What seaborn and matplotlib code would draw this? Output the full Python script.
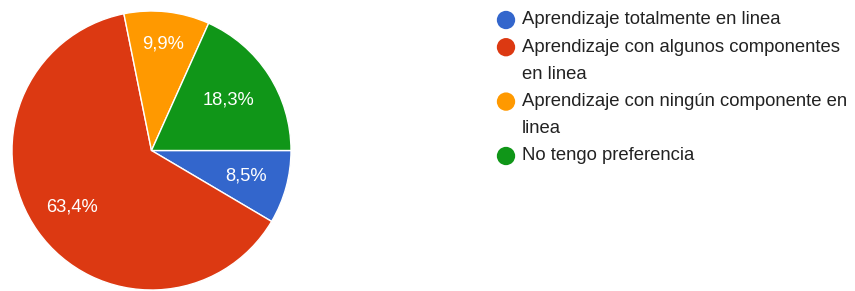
import matplotlib
matplotlib.use("Agg")
import matplotlib.pyplot as plt
import seaborn as sns
import numpy as np

categories = [
    "Aprendizaje totalmente en linea",
    "Aprendizaje con algunos componentes\nen linea",
    "Aprendizaje con ningún componente en\nlinea",
    "No tengo preferencia",
]
values = [8.5, 63.4, 9.9, 18.3]
pct_labels = ["8,5%", "63,4%", "9,9%", "18,3%"]
colors = ["#3366cc", "#dc3912", "#ff9900", "#109618"]

sns.set_theme(style="white")
plt.rcParams["font.family"] = ["Liberation Sans", "DejaVu Sans"]

W, H = 855, 291
fig = plt.figure(figsize=(W / 100, H / 100), dpi=100)
fig.patch.set_facecolor("white")
renderer = fig.canvas.get_renderer()


def fit_size(text, target_px, base=12.0):
    t = fig.text(0, 0, text, fontsize=base)
    w = t.get_window_extent(renderer).width
    t.remove()
    return base * target_px / w


pct_fs = fit_size("63,4%", 52)
leg_fs = fit_size(categories[0], 260)

# pie
ax = fig.add_axes([12 / W, 1 / H, 279 / W, 279 / H])
wedges, _ = ax.pie(
    values,
    colors=colors,
    startangle=0,
    counterclock=False,
    radius=1,
    wedgeprops=dict(edgecolor="white", linewidth=1.0),
)
dists = [0.705, 0.695, 0.77, 0.66]
for w, lab, d in zip(wedges, pct_labels, dists):
    ang = np.deg2rad((w.theta1 + w.theta2) / 2)
    ax.text(d * np.cos(ang), d * np.sin(ang), lab, ha="center", va="center",
            color="white", fontsize=pct_fs)
ax.set_xlim(-1, 1)
ax.set_ylim(-1, 1)
ax.set_aspect("equal")
ax.axis("off")

# legend drawn in a pixel-coordinate overlay axes
lax = fig.add_axes([0, 0, 1, 1])
lax.set_xlim(0, W)
lax.set_ylim(H, 0)
lax.axis("off")
line_step = 27.2
k = 0
for cat, c in zip(categories, colors):
    y = 20 + line_step * k
    lax.scatter([506], [y], s=13.2 ** 2, color=c, edgecolors="none")
    for j, line in enumerate(cat.split("\n")):
        lax.text(522, y + line_step * j, line, ha="left", va="center",
                 fontsize=leg_fs, color="#222222")
    k += len(cat.split("\n"))

fig.savefig("out.png", dpi=100, facecolor="white")
